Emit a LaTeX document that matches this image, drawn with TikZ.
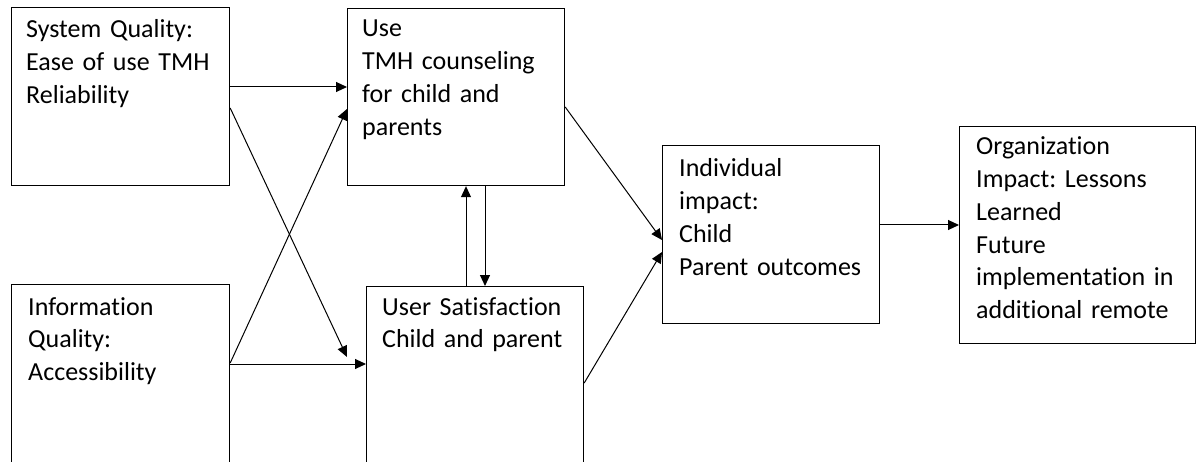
\documentclass[tikz,border=0pt]{standalone}
\usepackage{fontspec}
\setmainfont[Ligatures=CommonOff]{Carlito}
\frenchspacing
\usetikzlibrary{arrows.meta,positioning,calc}

\begin{document}
\begin{tikzpicture}[x=1pt,y=-1pt,
    box/.style={draw,line width=1.2pt,inner sep=0pt,anchor=north west},
    txt/.style={anchor=base west,inner sep=0pt,text width=#1,align=left,
        font=\fontsize{26}{32.7}\selectfont},
    >={Triangle[length=11pt,width=10pt]}]
    \clip (0,0) rectangle (1201,462);
    % the six boxes (the two lower left ones run off the bottom edge)
    \node[box,minimum width=218pt,minimum height=178pt] (sysq) at (11,7) {};
    \node[box,minimum width=217pt,minimum height=177pt] (use) at (347,8) {};
    \node[box,minimum width=218pt,minimum height=200pt] (info) at (11,284) {};
    \node[box,minimum width=217pt,minimum height=200pt] (usat) at (366,286) {};
    \node[box,minimum width=217pt,minimum height=178pt] (indiv) at (662,145) {};
    \node[box,minimum width=236pt,minimum height=217pt] (org) at (959,126) {};
    % texts, first baseline given from the top left corner
    \node[txt=200pt] (sysqtext) at ($(sysq.north west)+(15,31)$)
        {System Quality:\\Ease of use TMH\\Reliability};
    \node[txt=200pt] (usetext) at ($(use.north west)+(15,29)$)
        {Use\\TMH counseling\\for child and\\parents};
    \node[txt=200pt] (infotext) at ($(info.north west)+(17,31)$)
        {Information\\Quality:\\Accessibility};
    \node[txt=200pt] (usattext) at ($(usat.north west)+(16,29)$)
        {User Satisfaction\\Child and parent};
    \node[txt=200pt] (indivtext) at ($(indiv.north west)+(17,32)$)
        {Individual\\impact:\\Child\\Parent outcomes};
    \node[txt=215pt] (orgtext) at ($(org.north west)+(17,29)$)
        {Organization\\Impact: Lessons\\Learned\\Future\\implementation in\\additional remote};
    % free end of the arrow from system quality
    \coordinate (sysqend) at (347,357);
    % arrows into use and user satisfaction
    \draw[->,line width=1pt] ([yshift=-80pt]sysq.north east) -- ([yshift=-79pt]use.north west);
    \draw[->,line width=1pt] ([yshift=-101pt]sysq.north east) -- (sysqend);
    \draw[->,line width=1pt] ([yshift=-80pt]info.north east) -- ([yshift=-78pt]usat.north west);
    \draw[->,line width=1pt] ([yshift=-79pt]info.north east) -- ([yshift=-101pt]use.north west);
    % use and user satisfaction both ways
    \draw[->,line width=1pt] ([xshift=100pt]usat.north west) -- ([xshift=119pt]use.south west);
    \draw[->,line width=1pt] ([xshift=138pt]use.south west) -- ([xshift=119pt]usat.north west);
    % on to the impacts
    \draw[->,line width=1pt] ([yshift=-99pt]use.north east) -- ([yshift=-95pt]indiv.north west);
    \draw[->,line width=1pt] ([yshift=-97pt]usat.north east) -- ([yshift=-107pt]indiv.north west);
    \draw[->,line width=1pt] ([yshift=-80pt]indiv.north east) -- ([yshift=-99pt]org.north west);
\end{tikzpicture}
\end{document}
